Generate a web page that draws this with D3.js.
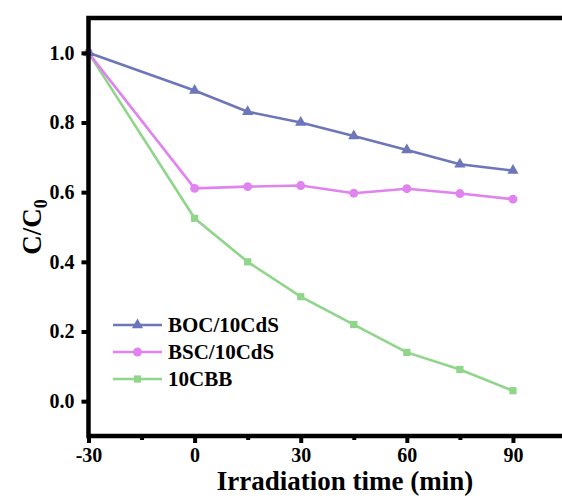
<!DOCTYPE html>
<html>
<head>
<meta charset="utf-8">
<script src="https://cdn.jsdelivr.net/npm/d3@7"></script>
<style>
  html, body { margin: 0; padding: 0; background: #fff; }
  svg { display: block; }
  text { font-family: "Liberation Serif", "Times New Roman", serif; font-weight: bold; fill: #000; }
</style>
</head>
<body>
<div id="chart"></div>
<script>
// Data
const times = [-30, 0, 15, 30, 45, 60, 75, 90];
const seriesNames = ['BOC/10CdS', 'BSC/10CdS', '10CBB'];
const bocValues = [1.0, 0.892, 0.831, 0.800, 0.761, 0.721, 0.680, 0.662];
const bscValues = [1.0, 0.611, 0.616, 0.619, 0.597, 0.610, 0.596, 0.580];
const cbbValues = [1.0, 0.525, 0.400, 0.300, 0.220, 0.140, 0.091, 0.030];
const xTicks = [-30, 0, 30, 60, 90];
const xMinorTicks = [-15, 15, 45, 75];
const yTicks = [0.0, 0.2, 0.4, 0.6, 0.8, 1.0];

const W = 562, H = 501;
const plot = { left: 88.5, top: 18, right: 566, bottom: 436 };

const svg = d3.select('#chart').append('svg')
    .attr('width', W)
    .attr('height', H);

const x = d3.scaleLinear().domain([-30, 105]).range([plot.left, plot.right]);
const y = d3.scaleLinear().domain([-0.1, 1.1]).range([plot.bottom, plot.top]);

const series = [
    { name: seriesNames[0], values: bocValues, color: '#6d76b9', symbol: d3.symbolTriangle, size: 55 },
    { name: seriesNames[1], values: bscValues, color: '#e083ee', symbol: d3.symbolCircle, size: 62 },
    { name: seriesNames[2], values: cbbValues, color: '#8fd68a', symbol: d3.symbolSquare, size: 52 }
];

// Lines and markers (green underneath, blue on top)
const line = d3.line()
    .x(d => x(d.t))
    .y(d => y(d.v));

series.slice().reverse().forEach(s => {
    const pts = times.map((t, i) => ({ t: t, v: s.values[i] }));
    svg.append('path')
        .datum(pts)
        .attr('d', line)
        .attr('fill', 'none')
        .attr('stroke', s.color)
        .attr('stroke-width', 2.6);
    svg.selectAll(null)
        .data(pts)
        .enter().append('path')
        .attr('transform', d => `translate(${x(d.t)},${y(d.v)})`)
        .attr('d', d3.symbol().type(s.symbol).size(s.size))
        .attr('fill', s.color);
});

// Axes (plain hyphen for negatives, like the original)
const xAxis = svg.append('g')
    .attr('transform', `translate(0,${plot.bottom})`)
    .call(d3.axisBottom(x).tickValues(xTicks).tickSize(7).tickPadding(5).tickFormat(d => String(d)));
const xMinor = svg.append('g')
    .attr('transform', `translate(0,${plot.bottom})`)
    .call(d3.axisBottom(x).tickValues(xMinorTicks).tickSize(4).tickFormat(''));
const yAxis = svg.append('g')
    .attr('transform', `translate(${plot.left},0)`)
    .call(d3.axisLeft(y).tickValues(yTicks).tickSize(7).tickPadding(7).tickFormat(d3.format('.1f')));

[xAxis, xMinor, yAxis].forEach(g => {
    g.attr('font-family', null).attr('font-size', null);
    g.select('.domain').remove();
    g.selectAll('.tick line').attr('stroke', '#000').attr('stroke-width', 4);
    g.selectAll('.tick text')
        .style('font-family', '"Liberation Serif", "Times New Roman", serif')
        .style('font-weight', 'bold')
        .style('font-size', '20px');
});

// Frame
svg.append('rect')
    .attr('x', plot.left)
    .attr('y', plot.top)
    .attr('width', plot.right - plot.left)
    .attr('height', plot.bottom - plot.top)
    .attr('fill', 'none')
    .attr('stroke', '#000')
    .attr('stroke-width', 4.5);

// Axis titles
svg.append('text')
    .attr('x', 345)
    .attr('y', 490)
    .attr('text-anchor', 'middle')
    .style('font-size', '27px')
    .text('Irradiation time (min)');

const yTitle = svg.append('text')
    .attr('transform', `translate(41,${y(0.5)}) rotate(-90)`)
    .attr('text-anchor', 'middle')
    .style('font-size', '27px');
yTitle.append('tspan').text('C/C');
yTitle.append('tspan').attr('dy', 6).style('font-size', '18px').text('0');

// Legend
const legend = svg.append('g').attr('transform', 'translate(113,325)');
series.forEach((s, i) => {
    const row = legend.append('g').attr('transform', `translate(0,${i * 27})`);
    row.append('line')
        .attr('x1', 0).attr('x2', 49)
        .attr('stroke', s.color)
        .attr('stroke-width', 2.6);
    row.append('path')
        .attr('transform', 'translate(24.5,0)')
        .attr('d', d3.symbol().type(s.symbol).size(s.size))
        .attr('fill', s.color);
    row.append('text')
        .attr('x', 55)
        .attr('dy', '0.35em')
        .style('font-size', '21px')
        .text(s.name);
});
</script>
</body>
</html>
